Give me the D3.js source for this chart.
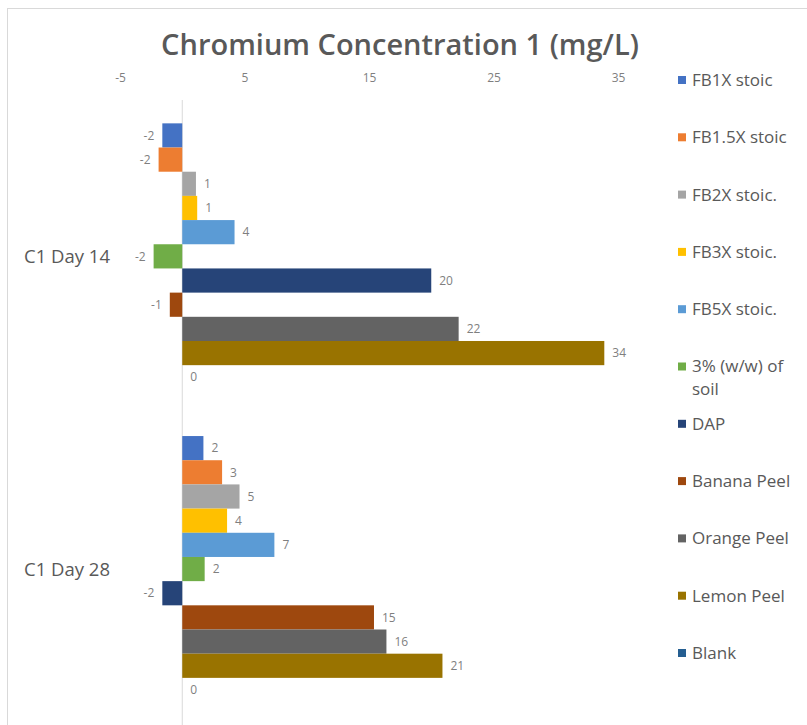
<!DOCTYPE html>
<html>
<head>
<meta charset="utf-8">
<script src="https://cdn.jsdelivr.net/npm/d3@7"></script>
<style>
  body { margin: 0; background: #fff; }
  text { font-family: "Open Sans", sans-serif; }
</style>
</head>
<body>
<script>
// values (labels show them rounded)
const categories = ["C1 Day 14", "C1 Day 28"];
const seriesNames = ["FB1X stoic", "FB1.5X stoic", "FB2X stoic.", "FB3X stoic.", "FB5X stoic.",
  "3% (w/w) of soil", "DAP", "Banana Peel", "Orange Peel", "Lemon Peel", "Blank"];
const day14 = [-1.6, -1.9, 1.1, 1.2, 4.2, -2.3, 20.0, -1.0, 22.2, 33.9, 0];
const day28 = [1.7, 3.2, 4.6, 3.6, 7.4, 1.8, -1.6, 15.4, 16.4, 20.9, 0];
const xTicks = [-5, 5, 15, 25, 35];
const colors = ["#4472C4", "#ED7D31", "#A5A5A5", "#FFC000", "#5B9BD5", "#70AD47",
  "#264478", "#9E480E", "#636363", "#997300", "#255E91"];

const width = 807, height = 725;
const values = [day14, day28];

const svg = d3.select("body").append("svg")
  .attr("width", width)
  .attr("height", height);

// chart frame
svg.append("rect")
  .attr("x", 7.5).attr("y", 8.5)
  .attr("width", 820).attr("height", 800)
  .attr("fill", "#fff")
  .attr("stroke", "#d9d9d9");

svg.append("text")
  .attr("x", 400).attr("y", 55)
  .attr("text-anchor", "middle")
  .attr("font-size", 29)
  .attr("font-weight", 600)
  .attr("fill", "#595959")
  .text("Chromium Concentration 1 (mg/L)");

const x = d3.scaleLinear().domain([-5, 35]).range([120, 618]);
const y0 = d3.scaleBand().domain(categories).range([100, 725.4]);
const groupH = 266;
const y1 = d3.scaleBand().domain(seriesNames).range([0, groupH]);

// x axis on top, labels only
const xAxis = svg.append("g")
  .attr("transform", "translate(0,85)")
  .call(d3.axisTop(x).tickValues(xTicks).tickSize(0).tickPadding(3)
    .tickFormat((d) => String(d)));
xAxis.select(".domain").remove();
xAxis.selectAll("text")
  .attr("font-family", "Open Sans, sans-serif")
  .attr("font-size", 12)
  .attr("fill", "#7f7f7f");

// zero line
svg.append("line")
  .attr("x1", x(0)).attr("x2", x(0))
  .attr("y1", 100).attr("y2", height)
  .attr("stroke", "#d9d9d9");

const groups = svg.selectAll("g.cat")
  .data(categories)
  .enter()
  .append("g")
  .attr("class", "cat")
  .attr("transform", (d) => "translate(0," + (y0(d) + (y0.bandwidth() - groupH) / 2) + ")");

groups.each(function (cat, ci) {
  const g = d3.select(this);
  const rows = seriesNames.map((s, i) => ({ s: s, v: values[ci][i], c: colors[i] }));

  g.selectAll("rect")
    .data(rows)
    .enter()
    .append("rect")
    .attr("x", (d) => Math.min(x(0), x(d.v)))
    .attr("y", (d) => y1(d.s))
    .attr("width", (d) => Math.abs(x(d.v) - x(0)))
    .attr("height", y1.bandwidth())
    .attr("fill", (d) => d.c);

  g.selectAll("text.lbl")
    .data(rows)
    .enter()
    .append("text")
    .attr("class", "lbl")
    .attr("x", (d) => (d.v < 0 ? x(d.v) - 8 : x(d.v) + 8))
    .attr("y", (d) => y1(d.s) + y1.bandwidth() / 2)
    .attr("dy", "0.35em")
    .attr("text-anchor", (d) => (d.v < 0 ? "end" : "start"))
    .attr("font-size", 12)
    .attr("fill", "#7f7f7f")
    .text((d) => String(Math.round(d.v)));
});

// category labels
svg.selectAll("text.cat")
  .data(categories)
  .enter()
  .append("text")
  .attr("class", "cat")
  .attr("x", 110)
  .attr("y", (d) => y0(d) + y0.bandwidth() / 2)
  .attr("dy", "0.35em")
  .attr("text-anchor", "end")
  .attr("font-size", 18.5)
  .attr("fill", "#595959")
  .text((d) => d);

// legend
const legend = svg.append("g");
const item = legend.selectAll("g")
  .data(seriesNames)
  .enter()
  .append("g")
  .attr("transform", (d, i) => "translate(678," + (80 + i * 57.3) + ")");

item.append("rect")
  .attr("x", 0).attr("y", -4)
  .attr("width", 8).attr("height", 8)
  .attr("fill", (d, i) => colors[i]);

item.append("text")
  .attr("x", 14)
  .attr("font-size", 17)
  .attr("fill", "#595959")
  .each(function (d) {
    const t = d3.select(this);
    const lines = d === "3% (w/w) of soil" ? ["3% (w/w) of", "soil"] : [d];
    lines.forEach((l, k) => {
      t.append("tspan").attr("x", 14).attr("dy", k === 0 ? "0.35em" : 23).text(l);
    });
  });
</script>
</body>
</html>
